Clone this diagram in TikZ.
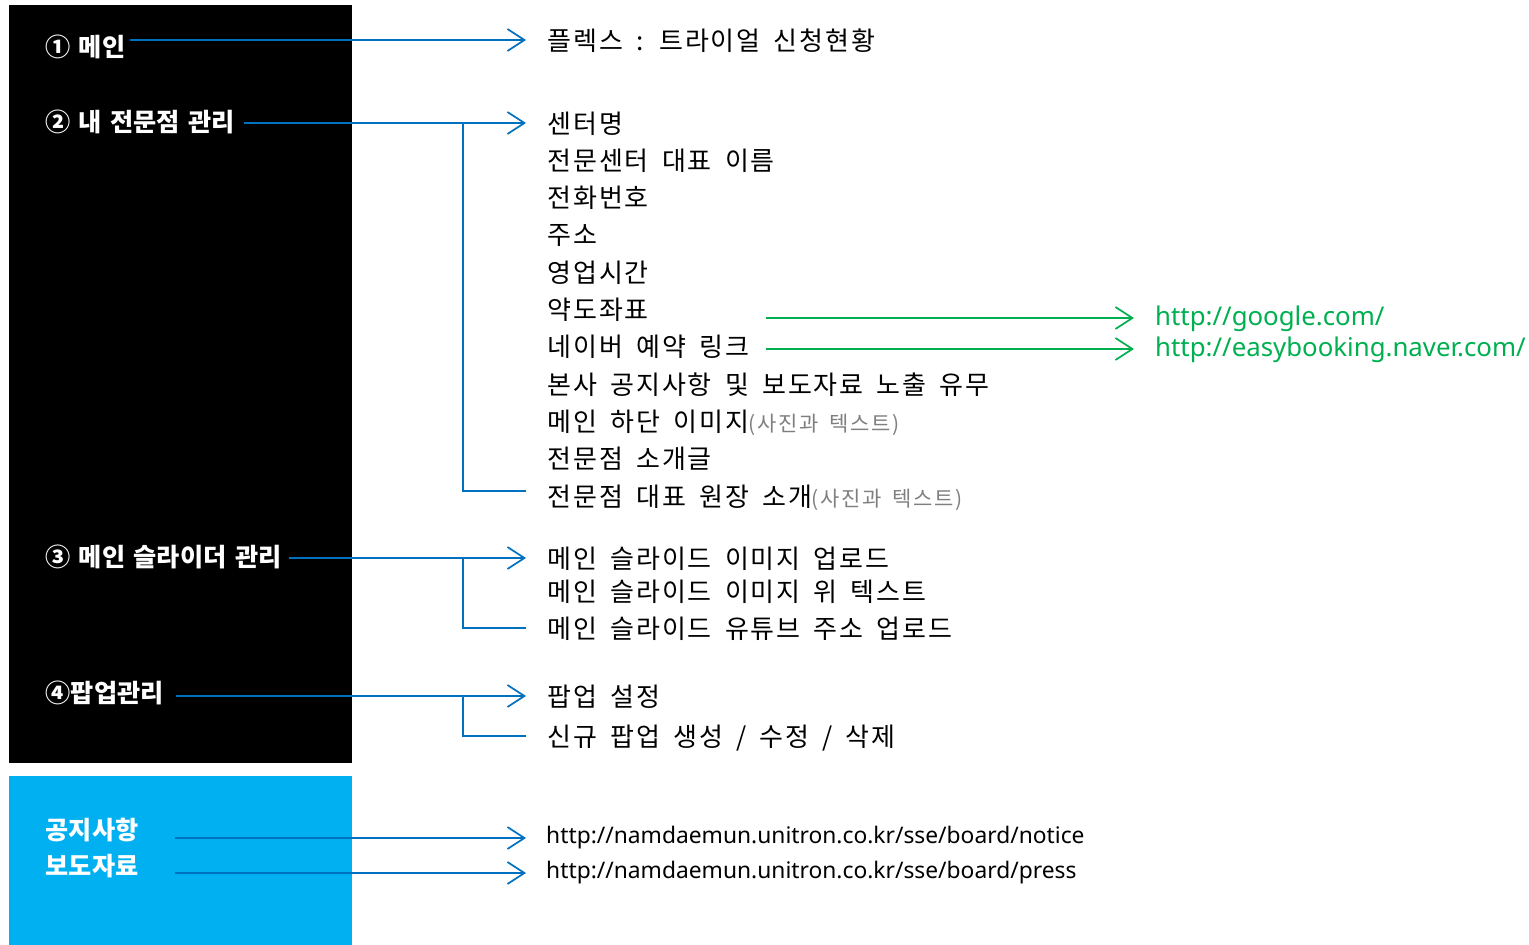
\documentclass[tikz,border=0pt]{standalone}
\usepackage{fontspec}
\setmainfont{Noto Sans CJK KR}[WordSpace=1.68, LetterSpace=7.7]
\newfontfamily\labfont{Noto Sans CJK KR}[WordSpace=1.37, LetterSpace=1.0]
\newfontfamily\urlfont{Noto Sans}
\usetikzlibrary{arrows.meta}
\definecolor{lineblue}{HTML}{0070C0}
\definecolor{boxblue}{HTML}{00B0F0}
\definecolor{linkgreen}{HTML}{00B050}
\definecolor{notegray}{HTML}{7F7F7F}
\tikzset{
  lab/.style={anchor=west, inner sep=0pt, text=white, text height=22pt, text depth=3pt,
    font=\labfont\bfseries\fontsize{25.2}{29}\selectfont},
  item/.style={anchor=west, inner sep=0pt, text=black, text height=23pt, text depth=3pt,
    font=\fontsize{26}{30}\selectfont},
  url/.style={anchor=west, inner sep=0pt, text=black, text height=17pt, text depth=7pt,
    font=\urlfont\fontsize{22.8}{28}\selectfont},
  gurl/.style={anchor=west, inner sep=0pt, text=linkgreen, text height=19pt, text depth=5pt,
    font=\urlfont\fontsize{25.8}{30}\selectfont},
  conn/.style={draw=lineblue, line width=1.7pt, -{Straight Barb[length=17pt,width=22pt,line width=1.7pt]}},
  branch/.style={draw=lineblue, line width=1.7pt},
  gconn/.style={draw=linkgreen, line width=1.7pt, -{Straight Barb[length=17pt,width=22pt,line width=1.7pt]}},
}
\newcommand{\note}[1]{{\color{notegray}\fontsize{21}{24}\selectfont #1}}
\begin{document}
\begin{tikzpicture}[x=1pt,y=-1pt]
\useasboundingbox (0,0) rectangle (1529,945);
\fill[black] (9,5) rectangle (352,763);
\fill[boxblue] (9,776) rectangle (352,945);

% left labels
\node[lab] (m1) at (45,47) {① 메인};
\node[lab] (m2) at (45,122) {② 내 전문점 관리};
\node[lab] (m3) at (45,557) {③ 메인 슬라이더 관리};
\node[lab] (m4) at (45,693) {④팝업관리};
\node[lab] (n1) at (45,830) {공지사항};
\node[lab] (n2) at (45,866) {보도자료};

% right items
\node[item] (t1) at (547,40) {플렉스 : 트라이얼 신청현황};
\node[item] (t2a) at (547,123) {센터명};
\node[item] (t2b) at (547,160) {전문센터 대표 이름};
\node[item] (t2c) at (547,197) {전화번호};
\node[item] (t2d) at (547,234) {주소};
\node[item] (t2e) at (547,272) {영업시간};
\node[item] (t2f) at (547,309) {약도좌표};
\node[item] (t2g) at (547,346) {네이버 예약 링크};
\node[item] (t2h) at (547,384) {본사 공지사항 및 보도자료 노출 유무};
\node[item] (t2i) at (547,421) {메인 하단 이미지\note{(사진과 텍스트)}};
\node[item] (t2j) at (547,458) {전문점 소개글};
\node[item] (t2k) at (547,496) {전문점 대표 원장 소개\note{(사진과 텍스트)}};
\node[item] (t3a) at (547,558) {메인 슬라이드 이미지 업로드};
\node[item] (t3b) at (547,591) {메인 슬라이드 이미지 위 텍스트};
\node[item] (t3c) at (547,628) {메인 슬라이드 유튜브 주소 업로드};
\node[item] (t4a) at (547,696) {팝업 설정};
\node[item] (t4b) at (547,736) {신규 팝업 생성 / 수정 / 삭제};
\node[url] (u1) at (546,838) {http://namdaemun.unitron.co.kr/sse/board/notice};
\node[url] (u2) at (546,873) {http://namdaemun.unitron.co.kr/sse/board/press};
\node[gurl] (g1) at (1155,318) {http://google.com/};
\node[gurl] (g2) at (1155,349) {http://easybooking.naver.com/};

\coordinate (bx) at (463,0);
\coordinate (tx) at (526,0);
\coordinate (ls) at (175,0);
\coordinate (gs) at (766,0);

% connectors
\draw[conn] ([xshift=5pt]m1.east |- t1.west) -- (tx |- t1.west);
\draw[conn] ([xshift=9pt]m2.east |- t2a.west) -- (tx |- t2a.west);
\draw[branch] (bx |- t2a.west) -- ([yshift=5pt]bx |- t2k.west) -- ([yshift=5pt]tx |- t2k.west);
\draw[conn] ([xshift=7pt]m3.east |- t3a.west) -- (tx |- t3a.west);
\draw[branch] (bx |- t3a.west) -- (bx |- t3c.west) -- (tx |- t3c.west);
\draw[conn] ([xshift=12pt]m4.east |- t4a.west) -- (tx |- t4a.west);
\draw[branch] (bx |- t4a.west) -- (bx |- t4b.west) -- (tx |- t4b.west);
\draw[conn] (ls |- u1.west) -- (tx |- u1.west);
\draw[conn] (ls |- u2.west) -- (tx |- u2.west);
\draw[gconn] (gs |- g1.west) -- ([xshift=-21pt]g1.west);
\draw[gconn] (gs |- g2.west) -- ([xshift=-21pt]g2.west);
\end{tikzpicture}
\end{document}
